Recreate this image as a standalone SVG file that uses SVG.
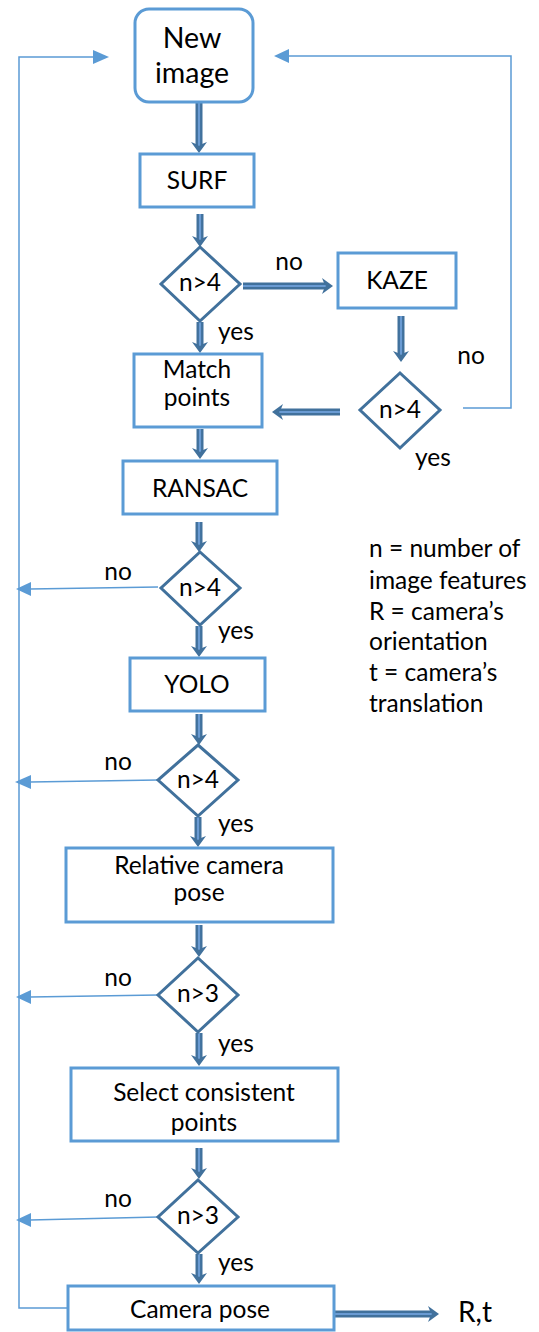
<svg xmlns="http://www.w3.org/2000/svg" width="539" height="1332" viewBox="0 0 539 1332">
<style>
  text { font-family: Lato, "Liberation Sans", sans-serif; font-size: 24.5px; fill: #000; }
  .c { text-anchor: middle; }
  .big { font-size: 28.5px; }
  .box { fill: #fff; stroke: #5B9BD5; stroke-width: 3; }
  .dia { fill: #fff; stroke: #41719C; stroke-width: 3; }
  .ts { stroke: #41719C; stroke-width: 7; fill: none; }
  .ti { stroke: #6A9BD3; stroke-width: 2.2; fill: none; }
  .th { fill: #41719C; stroke: none; }
  .fb { stroke: #5B9BD5; stroke-width: 1.5; fill: none; }
  .fh { fill: #5B9BD5; stroke: none; }
</style>
<defs>
  <path id="hd" d="M-8,-11 L0,0 L8,-11 L3,-9 L0,-7 L-3,-9 Z"/>
</defs>

<g id="connectors">
  <!-- feedback lines -->
  <path class="fb" d="M68,1308 H19 V57 H95"/>
  <polygon class="fh" points="93,50 109,57 93,64"/>
  <path class="fb" d="M463,408 H511 V56 H288"/>
  <polygon class="fh" points="289,49 274,56 289,63"/>
  <path class="fb" d="M158,587 L30,589"/>
  <polygon class="fh" points="31,582 16,589 31,596"/>
  <path class="fb" d="M158,780 L30,782"/>
  <polygon class="fh" points="31,775 15,782 31,789"/>
  <path class="fb" d="M158,995 L30,997"/>
  <polygon class="fh" points="31,990 16,997 31,1004"/>
  <path class="fb" d="M158,1217 L30,1220"/>
  <polygon class="fh" points="31,1213 16,1220 31,1227"/>

  <!-- thick arrows: vertical -->
  <g>
    <path class="ts" d="M199,103 V146"/><path class="ti" d="M199,103 V146"/>
    <use href="#hd" class="th" transform="translate(199,153)"/>
  </g>
  <g>
    <path class="ts" d="M200,214 V240"/><path class="ti" d="M200,214 V240"/>
    <use href="#hd" class="th" transform="translate(200,247)"/>
  </g>
  <g>
    <path class="ts" d="M200,322 V346"/><path class="ti" d="M200,322 V346"/>
    <use href="#hd" class="th" transform="translate(200,353)"/>
  </g>
  <g>
    <path class="ts" d="M401,316 V355"/><path class="ti" d="M401,316 V355"/>
    <use href="#hd" class="th" transform="translate(401,362)"/>
  </g>
  <g>
    <path class="ts" d="M200,429 V452"/><path class="ti" d="M200,429 V452"/>
    <use href="#hd" class="th" transform="translate(200,459)"/>
  </g>
  <g>
    <path class="ts" d="M199,522 V545"/><path class="ti" d="M199,522 V545"/>
    <use href="#hd" class="th" transform="translate(199,552)"/>
  </g>
  <g>
    <path class="ts" d="M199,626 V650"/><path class="ti" d="M199,626 V650"/>
    <use href="#hd" class="th" transform="translate(199,657)"/>
  </g>
  <g>
    <path class="ts" d="M199,714 V738"/><path class="ti" d="M199,714 V738"/>
    <use href="#hd" class="th" transform="translate(199,745)"/>
  </g>
  <g>
    <path class="ts" d="M198,817 V840"/><path class="ti" d="M198,817 V840"/>
    <use href="#hd" class="th" transform="translate(198,847)"/>
  </g>
  <g>
    <path class="ts" d="M199,925 V950"/><path class="ti" d="M199,925 V950"/>
    <use href="#hd" class="th" transform="translate(199,957)"/>
  </g>
  <g>
    <path class="ts" d="M199,1033 V1059"/><path class="ti" d="M199,1033 V1059"/>
    <use href="#hd" class="th" transform="translate(199,1066)"/>
  </g>
  <g>
    <path class="ts" d="M199,1148 V1172"/><path class="ti" d="M199,1148 V1172"/>
    <use href="#hd" class="th" transform="translate(199,1179)"/>
  </g>
  <g>
    <path class="ts" d="M199,1254 V1277"/><path class="ti" d="M199,1254 V1277"/>
    <use href="#hd" class="th" transform="translate(199,1284)"/>
  </g>
  <!-- thick arrows: horizontal -->
  <g>
    <path class="ts" d="M243,286 H326"/><path class="ti" d="M243,286 H326"/>
    <use href="#hd" class="th" transform="translate(333,286) rotate(-90)"/>
  </g>
  <g>
    <path class="ts" d="M340,412 H279"/><path class="ti" d="M340,412 H279"/>
    <use href="#hd" class="th" transform="translate(272,412) rotate(90)"/>
  </g>
  <g>
    <path class="ts" d="M335,1314 H432"/><path class="ti" d="M335,1314 H432"/>
    <use href="#hd" class="th" transform="translate(439,1314) rotate(-90)"/>
  </g>
</g>

<g id="new-image">
  <rect class="box" x="135" y="9" width="118" height="93" rx="14"/>
  <text class="c big" x="192" y="48">New</text>
  <text class="c big" x="192" y="83">image</text>
</g>
<g id="surf">
  <rect class="box" x="140" y="154" width="114" height="53"/>
  <text class="c" x="197" y="189">SURF</text>
</g>
<g id="dec1">
  <polygon class="dia" points="200,247 240,284 200,321 161,284"/>
  <text class="c" x="200" y="291">n&gt;4</text>
</g>
<g id="kaze">
  <rect class="box" x="338" y="253" width="118" height="55"/>
  <text class="c" x="397" y="289">KAZE</text>
</g>
<g id="dec2">
  <polygon class="dia" points="400,373 440,410 400,448 360,410"/>
  <text class="c" x="400" y="418">n&gt;4</text>
</g>
<g id="match">
  <rect class="box" x="134" y="354" width="128" height="73"/>
  <text class="c" x="197" y="378">Match</text>
  <text class="c" x="197" y="406">points</text>
</g>
<g id="ransac">
  <rect class="box" x="123" y="461" width="154" height="53"/>
  <text class="c" x="200" y="497">RANSAC</text>
</g>
<g id="dec3">
  <polygon class="dia" points="200,552 240,588 200,625 161,588"/>
  <text class="c" x="200" y="596">n&gt;4</text>
</g>
<g id="yolo">
  <rect class="box" x="130" y="658" width="135" height="53"/>
  <text class="c" x="197" y="693">YOLO</text>
</g>
<g id="dec4">
  <polygon class="dia" points="198,745 238,780 198,816 158,780"/>
  <text class="c" x="198" y="788">n&gt;4</text>
</g>
<g id="relative">
  <rect class="box" x="66" y="848" width="267" height="74"/>
  <text class="c" x="199" y="874">Relative camera</text>
  <text class="c" x="199" y="901">pose</text>
</g>
<g id="dec5">
  <polygon class="dia" points="198,958 238,995 198,1032 158,995"/>
  <text class="c" x="198" y="1002">n&gt;3</text>
</g>
<g id="select">
  <rect class="box" x="71" y="1068" width="267" height="73"/>
  <text class="c" x="204" y="1101">Select consistent</text>
  <text class="c" x="204" y="1131">points</text>
</g>
<g id="dec6">
  <polygon class="dia" points="198,1180 238,1217 198,1253 158,1217"/>
  <text class="c" x="198" y="1224">n&gt;3</text>
</g>
<g id="camera-pose">
  <rect class="box" x="68" y="1286" width="266" height="44"/>
  <text class="c" x="200" y="1318">Camera pose</text>
</g>
<g id="output">
  <text x="458" y="1322" style="font-size:28px">R,t</text>
</g>

<g id="labels">
  <text class="c" x="289" y="270">no</text>
  <text class="c" x="471" y="364">no</text>
  <text x="218" y="340">yes</text>
  <text x="415" y="466">yes</text>
  <text class="c" x="118" y="580">no</text>
  <text x="218" y="639">yes</text>
  <text class="c" x="118" y="770">no</text>
  <text x="218" y="832">yes</text>
  <text class="c" x="118" y="986">no</text>
  <text x="218" y="1052">yes</text>
  <text class="c" x="118" y="1207">no</text>
  <text x="218" y="1271">yes</text>
</g>

<g id="legend">
  <text x="369" y="557">n = number of</text>
  <text x="369" y="589">image features</text>
  <text x="369" y="620">R = camera’s</text>
  <text x="369" y="650">orientation</text>
  <text x="369" y="681">t = camera’s</text>
  <text x="369" y="712">translation</text>
</g>
</svg>
